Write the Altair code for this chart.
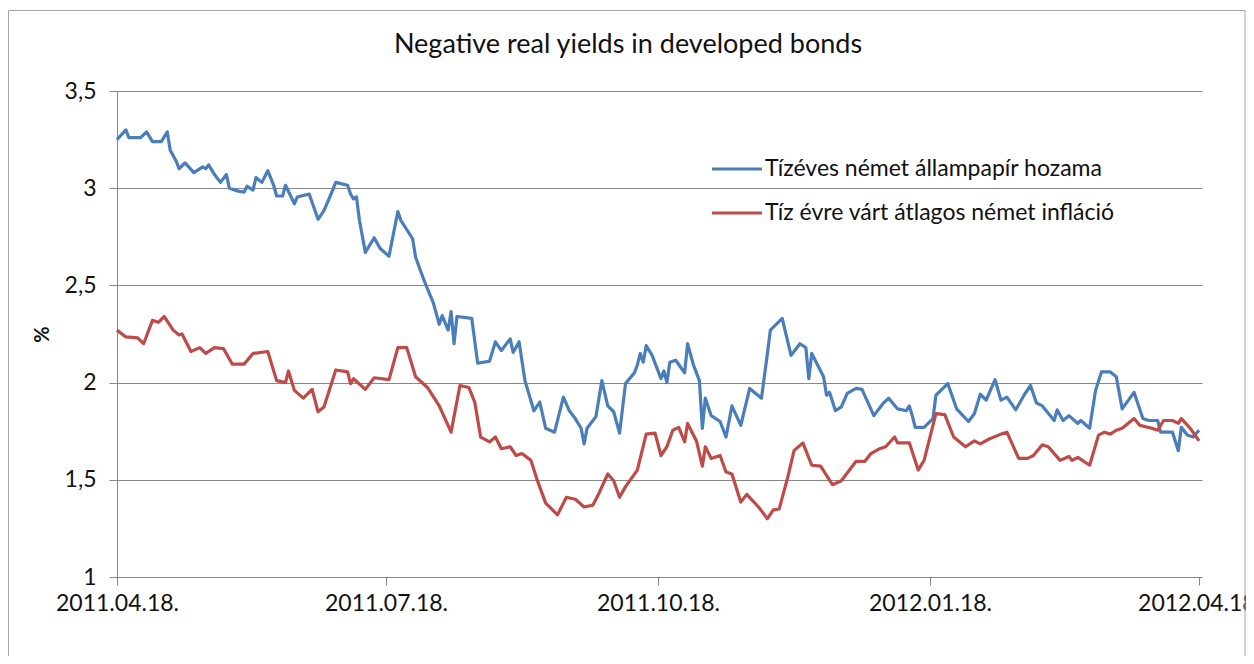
import altair as alt
import pandas as pd

TITLE = "Negative real yields in developed bonds"
SERIES = ["Tízéves német állampapír hozama", "Tíz évre várt átlagos német infláció"]
COLORS = ["#4A7EBB", "#BE4B48"]
START = "2011-04-18"

# days after 2011-04-18 and values (%)
blue_days = [0, 3, 4, 8, 10, 12, 15, 17, 18, 20, 21, 23, 26, 29, 30, 31, 33, 35, 37, 38,
             41, 43, 44, 46, 47, 49, 51, 53, 54, 56, 57, 60, 61, 65, 68, 70, 72, 74, 78, 79,
             80, 81, 82, 84, 87, 89, 92, 95, 96, 100, 101, 104, 107, 109, 110, 112, 113, 114, 115, 120,
             122, 126, 128, 130, 133, 134, 136, 138, 141, 143, 145, 148, 151, 153, 155, 157, 158, 159, 162, 164,
             166, 168, 170, 172, 175, 176, 177, 178, 179, 181, 184, 185, 186, 187, 189, 192, 193, 195, 197, 198,
             199, 201, 204, 206, 208, 211, 214, 218, 220, 221, 225, 228, 231, 233, 234, 235, 239, 240, 241, 243,
             245, 247, 250, 252, 256, 259, 261, 264, 267, 268, 269, 270, 273, 276, 277, 281, 284, 288, 290, 292,
             294, 297, 299, 301, 304, 307, 309, 311, 313, 317, 318, 320, 322, 325, 326, 329, 331, 333, 336, 338,
             340, 344, 347, 349, 352, 353, 357, 359, 360, 362, 364, 366]
blue_vals = [3.25, 3.30, 3.26, 3.26, 3.29, 3.24, 3.24, 3.29, 3.195, 3.14, 3.10, 3.13, 3.08, 3.11, 3.10, 3.12, 3.07, 3.03, 3.07, 3.00,
             2.985, 2.98, 3.01, 2.99, 3.055, 3.03, 3.09, 3.015, 2.96, 2.96, 3.015, 2.92, 2.955, 2.97, 2.84, 2.885, 2.955, 3.03, 3.015, 2.97,
             2.945, 2.955, 2.835, 2.67, 2.745, 2.69, 2.65, 2.88, 2.835, 2.74, 2.645, 2.52, 2.41, 2.30, 2.345, 2.27, 2.365, 2.20, 2.34, 2.33,
             2.10, 2.11, 2.21, 2.165, 2.225, 2.155, 2.21, 2.01, 1.855, 1.90, 1.765, 1.745, 1.925, 1.855, 1.815, 1.765, 1.685, 1.765, 1.825, 2.01,
             1.88, 1.85, 1.74, 1.995, 2.05, 2.09, 2.15, 2.105, 2.19, 2.14, 2.02, 2.06, 2.00, 2.105, 2.115, 2.05, 2.20, 2.09, 2.01, 1.765,
             1.92, 1.83, 1.80, 1.72, 1.88, 1.78, 1.97, 1.92, 2.15, 2.27, 2.33, 2.14, 2.20, 2.18, 2.02, 2.15, 2.03, 1.935, 1.95, 1.855,
             1.875, 1.945, 1.97, 1.965, 1.83, 1.89, 1.92, 1.865, 1.855, 1.88, 1.83, 1.77, 1.77, 1.815, 1.935, 1.995, 1.865, 1.80, 1.84, 1.94,
             1.91, 2.015, 1.91, 1.925, 1.86, 1.94, 1.985, 1.895, 1.88, 1.805, 1.86, 1.805, 1.83, 1.79, 1.805, 1.765, 1.96, 2.055, 2.055, 2.03,
             1.865, 1.95, 1.815, 1.805, 1.805, 1.745, 1.745, 1.65, 1.77, 1.73, 1.72, 1.755]

red_days = [0, 3, 7, 9, 12, 14, 16, 19, 21, 22, 25, 28, 30, 33, 36, 39, 43, 46, 51, 54,
            57, 58, 60, 63, 66, 68, 70, 74, 78, 79, 80, 84, 87, 92, 95, 98, 101, 105, 109, 113,
            116, 119, 121, 123, 126, 128, 130, 133, 135, 137, 140, 142, 145, 149, 152, 155, 158, 161, 163, 166,
            168, 170, 172, 176, 179, 182, 184, 186, 188, 190, 192, 193, 196, 198, 199, 201, 204, 206, 208, 211,
            213, 217, 220, 222, 224, 227, 229, 232, 235, 238, 242, 245, 250, 253, 255, 258, 260, 263, 264, 268,
            271, 273, 277, 280, 283, 287, 290, 292, 295, 299, 301, 305, 308, 310, 313, 315, 319, 322, 323, 325,
            329, 332, 334, 336, 338, 340, 344, 346, 350, 352, 354, 357, 359, 360, 363, 366]
red_vals = [2.27, 2.235, 2.23, 2.20, 2.32, 2.31, 2.34, 2.27, 2.245, 2.25, 2.16, 2.18, 2.15, 2.18, 2.175, 2.095, 2.095, 2.15, 2.16, 2.01,
            2.00, 2.06, 1.96, 1.92, 1.965, 1.85, 1.875, 2.065, 2.055, 1.995, 2.02, 1.965, 2.025, 2.015, 2.18, 2.18, 2.03, 1.975, 1.88, 1.745,
            1.985, 1.975, 1.90, 1.72, 1.695, 1.72, 1.66, 1.67, 1.625, 1.635, 1.60, 1.505, 1.38, 1.32, 1.41, 1.40, 1.36, 1.37, 1.43, 1.53,
            1.495, 1.41, 1.465, 1.55, 1.735, 1.74, 1.625, 1.67, 1.755, 1.77, 1.695, 1.79, 1.70, 1.57, 1.67, 1.61, 1.625, 1.54, 1.53, 1.385,
            1.425, 1.36, 1.30, 1.345, 1.35, 1.52, 1.65, 1.69, 1.575, 1.57, 1.475, 1.495, 1.595, 1.595, 1.635, 1.66, 1.67, 1.72, 1.69, 1.69,
            1.55, 1.60, 1.84, 1.835, 1.72, 1.67, 1.70, 1.685, 1.71, 1.735, 1.745, 1.61, 1.61, 1.625, 1.68, 1.67, 1.60, 1.62, 1.60, 1.615,
            1.575, 1.73, 1.745, 1.735, 1.755, 1.765, 1.815, 1.78, 1.765, 1.755, 1.805, 1.805, 1.79, 1.815, 1.765, 1.70]

x_ticks = [(2011, 4, 18), (2011, 7, 18), (2011, 10, 18), (2012, 1, 18), (2012, 4, 18)]
y_ticks = [1, 1.5, 2, 2.5, 3, 3.5]

start = pd.Timestamp(START)
df = pd.concat([
    pd.DataFrame({"date": start + pd.to_timedelta(blue_days, unit="D"), "value": blue_vals, "series": SERIES[0]}),
    pd.DataFrame({"date": start + pd.to_timedelta(red_days, unit="D"), "value": red_vals, "series": SERIES[1]}),
])

FONT = "Lato"
GRID = "#878787"
TXT = "#111111"

lines = alt.Chart(df).mark_line(strokeWidth=3.2, strokeJoin="round").encode(
    x=alt.X("date:T",
            scale=alt.Scale(domain=[alt.DateTime(year=2011, month=4, date=18),
                                    alt.DateTime(year=2012, month=4, date=19)]),
            axis=alt.Axis(values=[alt.DateTime(year=y, month=m, date=d) for y, m, d in x_ticks],
                          labelExpr="timeFormat(datum.value, '%Y.%m.%d.')",
                          title=None, grid=False, labelFont=FONT, labelFontSize=23,
                          labelColor=TXT, labelPadding=7, tickSize=8, tickColor=GRID,
                          domainColor=GRID, labelFlush=False, labelOverlap=False)),
    y=alt.Y("value:Q",
            scale=alt.Scale(domain=[1, 3.5], nice=False, zero=False),
            axis=alt.Axis(values=y_ticks,
                          labelExpr="replace(format(datum.value, '.1~f'), '.', ',')",
                          title="%", titleAngle=-90, titleX=-75, titleY=243,
                          titleFont=FONT, titleFontSize=20, titleFontWeight="bold",
                          titleColor=TXT, titleAlign="center", titleBaseline="middle",
                          grid=True, gridColor=GRID, gridWidth=1,
                          labelFont=FONT, labelFontSize=23, labelColor=TXT,
                          labelPadding=13, tickSize=8, tickColor=GRID, domainColor=GRID)),
    color=alt.Color("series:N", scale=alt.Scale(domain=SERIES, range=COLORS), legend=None),
)

frame_df = pd.DataFrame({"k": [0]})
frame_top = alt.Chart(frame_df).mark_rule(color="#a6a6a6", strokeWidth=1).encode(
    x=alt.value(-108.5), x2=alt.value(1128), y=alt.value(-80.5))
frame_left = alt.Chart(frame_df).mark_rule(color="#a6a6a6", strokeWidth=1).encode(
    x=alt.value(-108.5), y=alt.value(-80.5), y2=alt.value(570))
frame_right = alt.Chart(frame_df).mark_rule(color="#a6a6a6", strokeWidth=1).encode(
    x=alt.value(1128), y=alt.value(-80.5), y2=alt.value(570))

title = alt.Chart(pd.DataFrame({"t": [TITLE]})).mark_text(
    font=FONT, fontSize=27, color=TXT, align="center", baseline="middle"
).encode(text="t:N", x=alt.value(511), y=alt.value(-46))

legend_layers = []
for i, name in enumerate(SERIES):
    ldf = pd.DataFrame({"name": [name]})
    yy = 78 + 44 * i
    legend_layers.append(alt.Chart(ldf).mark_rule(color=COLORS[i], strokeWidth=3.2).encode(
        x=alt.value(595), x2=alt.value(645), y=alt.value(yy)))
    legend_layers.append(alt.Chart(ldf).mark_text(
        font=FONT, fontSize=23, color=TXT, align="left", baseline="middle").encode(
        text="name:N", x=alt.value(648), y=alt.value(yy)))

chart = alt.layer(frame_top, frame_left, frame_right, lines, title, *legend_layers).properties(
    width=1085, height=486,
    padding={"left": 109, "top": 83, "right": 44, "bottom": 79},
    autosize=alt.AutoSizeParams(type="none"),
    background="white",
).configure_view(stroke=None)

chart.save("out.html", embed_options={"renderer": "svg", "actions": False})
